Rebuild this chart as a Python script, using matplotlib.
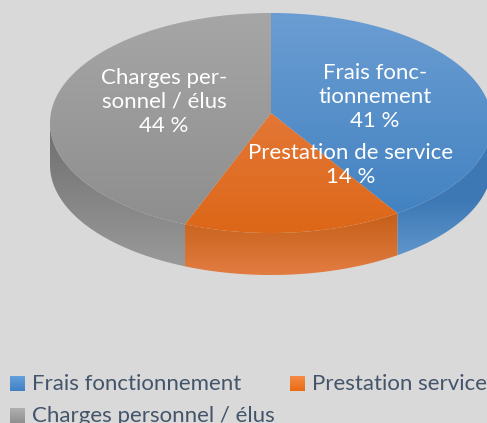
import numpy as np
import matplotlib
matplotlib.use("Agg")
import matplotlib.pyplot as plt
from matplotlib.colors import LinearSegmentedColormap
from matplotlib.patches import Polygon

labels = ["Frais fonc-\ntionnement\n41 %", "Prestation de service\n14 %", "Charges per-\nsonnel / élus\n44 %"]
legend_names = ["Frais fonctionnement", "Prestation service", "Charges personnel / élus"]
values = [41, 14, 44]

top_colors = [["#6b9dd2", "#3f80c0"], ["#e98550", "#dd6718"], ["#a6a6a6", "#8d8d8d"]]
side_colors = [["#3d78b4", "#3d78b4", "#6a9fd4"], ["#c55f18", "#e27c42"], ["#6e6e6e", "#9c9c9c"]]
legend_colors = [["#64a0dc", "#3f80c4"], ["#f58b45", "#ea6a12"], ["#b0b0b0", "#8f8f8f"]]

plt.rcParams["font.family"] = ["Lato", "DejaVu Sans"]

cx, cy, rx, ry = 271, 123, 221, 110
apex_y = 113
depth = 42


def arc(a0, a1, dy=0):
    a = np.radians(np.linspace(a0, a1, 200))
    # small warp for the perspective of the 3d pie
    t = a + np.radians(4.5) * np.sin(2 * a)
    return np.column_stack([cx + rx * np.sin(t), cy + dy - ry * np.cos(t)])


def gradient(ax, poly, colors, y0, y1, z):
    cmap = LinearSegmentedColormap.from_list("g", colors)
    grad = np.linspace(0, 1, 256).reshape(-1, 1)
    im = ax.imshow(grad, cmap=cmap, extent=[0, 487, y1, y0], aspect="auto", zorder=z)
    patch = Polygon(poly, closed=True, transform=ax.transData, fc="none", ec="none")
    ax.add_patch(patch)
    im.set_clip_path(patch)


fig = plt.figure(figsize=(4.87, 4.23), dpi=100, facecolor="#d9d9d9")
ax = fig.add_axes([0, 0, 1, 1])
ax.set_axis_off()

edges = np.cumsum([0] + values) / sum(values) * 360

for i in range(len(values)):
    a0, a1 = edges[i], edges[i + 1]
    top = np.vstack([[[cx, apex_y]], arc(a0, a1)])
    gradient(ax, top, top_colors[i], 13, 233, 3)

    # rim only shows on the front half
    s0, s1 = max(a0, 90), min(a1, 270)
    if s1 > s0:
        rim = np.vstack([arc(s0, s1), arc(s0, s1, depth)[::-1]])
        gradient(ax, rim, side_colors[i], rim[:, 1].min(), 275, 2)

ax.text(375, 97, labels[0], color="white", fontsize=16, ha="center", va="center", linespacing=1.25, zorder=5)
ax.text(351, 165, labels[1], color="white", fontsize=16, ha="center", va="center", linespacing=1.25, zorder=5)
ax.text(164, 102, labels[2], color="white", fontsize=16, ha="center", va="center", linespacing=1.25, zorder=5)

legend_x = [10, 290, 10]
legend_y = [376, 376, 408]
for i, name in enumerate(legend_names):
    x, y = legend_x[i], legend_y[i]
    box = [[x, y], [x + 15, y], [x + 15, y + 15], [x, y + 15]]
    gradient(ax, box, legend_colors[i], y, y + 15, 3)
    ax.text(x + 22, y + 7.5, name, color="#44546a", fontsize=16, ha="left", va="center", zorder=5)

ax.set_xlim(0, 487)
ax.set_ylim(423, 0)

fig.savefig("out.png", dpi=100, facecolor=fig.get_facecolor())
